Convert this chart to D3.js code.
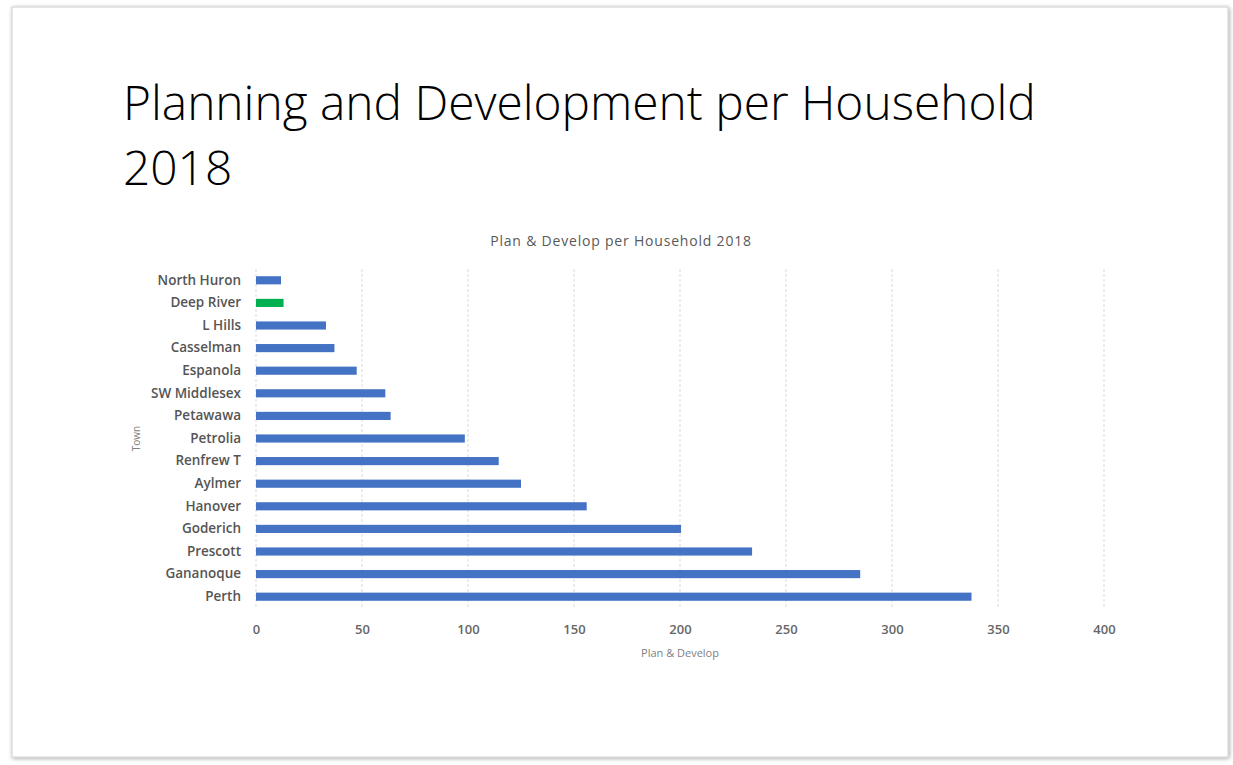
<!DOCTYPE html>
<html>
<head>
<meta charset="utf-8">
<script src="https://cdn.jsdelivr.net/npm/d3@7"></script>
<style>
  body { margin: 0; background: #fff; }
  svg { display: block; }
</style>
</head>
<body>
<div id="chart-area"></div>
<script>
// Data (top to bottom as shown)
const towns = ["North Huron", "Deep River", "L Hills", "Casselman", "Espanola",
    "SW Middlesex", "Petawawa", "Petrolia", "Renfrew T", "Aylmer", "Hanover",
    "Goderich", "Prescott", "Gananoque", "Perth"];
const planDevelop = [11.8, 13, 33, 37, 47.5, 61, 63.5, 98.5, 114.5, 125, 156,
    200.5, 234, 285, 337.5];
const highlightTown = "Deep River";
const xTicks = [0, 50, 100, 150, 200, 250, 300, 350, 400];

const W = 1233, H = 765;
const margin = { left: 256, right: 129, top: 269, bottom: 157 },
    width = W - margin.left - margin.right,
    height = H - margin.top - margin.bottom;

const svg = d3.select("#chart-area").append("svg")
    .attr("width", W)
    .attr("height", H);

// slide frame with soft shadow
const defs = svg.append("defs");
const f = defs.append("filter").attr("id", "shadow")
    .attr("x", "-5%").attr("y", "-5%").attr("width", "110%").attr("height", "110%");
f.append("feGaussianBlur").attr("in", "SourceAlpha").attr("stdDeviation", 2);
f.append("feOffset").attr("dx", 1).attr("dy", 1).attr("result", "b");
f.append("feFlood").attr("flood-color", "#000").attr("flood-opacity", 0.35);
f.append("feComposite").attr("in2", "b").attr("operator", "in");
const fm = f.append("feMerge");
fm.append("feMergeNode");
fm.append("feMergeNode").attr("in", "SourceGraphic");

svg.append("rect")
    .attr("x", 12).attr("y", 7)
    .attr("width", 1216).attr("height", 750)
    .attr("fill", "#fff")
    .attr("stroke", "#d0d0d0")
    .attr("stroke-width", 1)
    .attr("filter", "url(#shadow)");

// Slide title
const titleFont = "'Open Sans', 'Noto Sans', sans-serif";
const title1 = svg.append("text")
    .attr("x", 123).attr("y", 120)
    .attr("font-family", titleFont)
    .attr("font-weight", 300)
    .attr("font-size", 48)
    .attr("fill", "#000")
    .text("Planning and Development per Household");
// fit to reference width
const w1 = title1.node().getComputedTextLength();
const fs = 48 * 913 / w1;
title1.attr("font-size", fs);
svg.append("text")
    .attr("x", 123).attr("y", 185)
    .attr("font-family", titleFont)
    .attr("font-weight", 300)
    .attr("font-size", fs)
    .attr("fill", "#000")
    .text("2018");

const g = svg.append("g")
    .attr("transform", "translate(" + margin.left + "," + margin.top + ")");

// Scales
const x = d3.scaleLinear().domain([0, 400]).range([0, width]);
const y = d3.scaleBand().domain(towns).range([0, height]).paddingInner(0.64).paddingOuter(0.32);

const chartFont = "'Open Sans', 'Noto Sans', sans-serif";

// Gridlines
g.selectAll(".grid")
    .data(xTicks)
    .enter().append("line")
    .attr("class", "grid")
    .attr("x1", d => x(d)).attr("x2", d => x(d))
    .attr("y1", 0).attr("y2", height)
    .attr("stroke", "#d9d9d9")
    .attr("stroke-width", 1)
    .attr("stroke-dasharray", "3,2");

// Bars
const data = towns.map((t, i) => ({ town: t, value: planDevelop[i] }));
g.selectAll(".bar")
    .data(data)
    .enter().append("rect")
    .attr("class", "bar")
    .attr("x", x(0))
    .attr("y", d => y(d.town))
    .attr("width", d => x(d.value) - x(0))
    .attr("height", y.bandwidth())
    .attr("fill", d => d.town === highlightTown ? "#00B050" : "#4472C4");

// Axes
const xAxisCall = d3.axisBottom(x).tickValues(xTicks).tickSize(0).tickPadding(17);
const xAxis = g.append("g")
    .attr("transform", "translate(0," + height + ")")
    .call(xAxisCall);
xAxis.select(".domain").remove();
xAxis.selectAll("text")
    .attr("font-family", chartFont)
    .attr("font-size", 13)
    .attr("font-weight", 600)
    .attr("fill", "#666");

const yAxisCall = d3.axisLeft(y).tickSize(0).tickPadding(15);
const yAxis = g.append("g").call(yAxisCall);
yAxis.select(".domain").remove();
yAxis.selectAll("text")
    .attr("font-family", chartFont)
    .attr("font-size", 13.5)
    .attr("font-weight", 600)
    .attr("fill", "#555");

// Chart title
svg.append("text")
    .attr("x", 621).attr("y", 246)
    .attr("text-anchor", "middle")
    .attr("font-family", chartFont)
    .attr("font-size", 14)
    .attr("letter-spacing", 0.8)
    .attr("fill", "#595959")
    .text("Plan & Develop per Household 2018");

// Axis titles
svg.append("text")
    .attr("x", margin.left + x(200)).attr("y", 657)
    .attr("text-anchor", "middle")
    .attr("font-family", chartFont)
    .attr("font-size", 11)
    .attr("fill", "#808080")
    .text("Plan & Develop");

svg.append("text")
    .attr("transform", "translate(140," + (margin.top + height / 2) + ") rotate(-90)")
    .attr("text-anchor", "middle")
    .attr("font-family", chartFont)
    .attr("font-size", 10)
    .attr("fill", "#808080")
    .text("Town");
</script>
</body>
</html>
